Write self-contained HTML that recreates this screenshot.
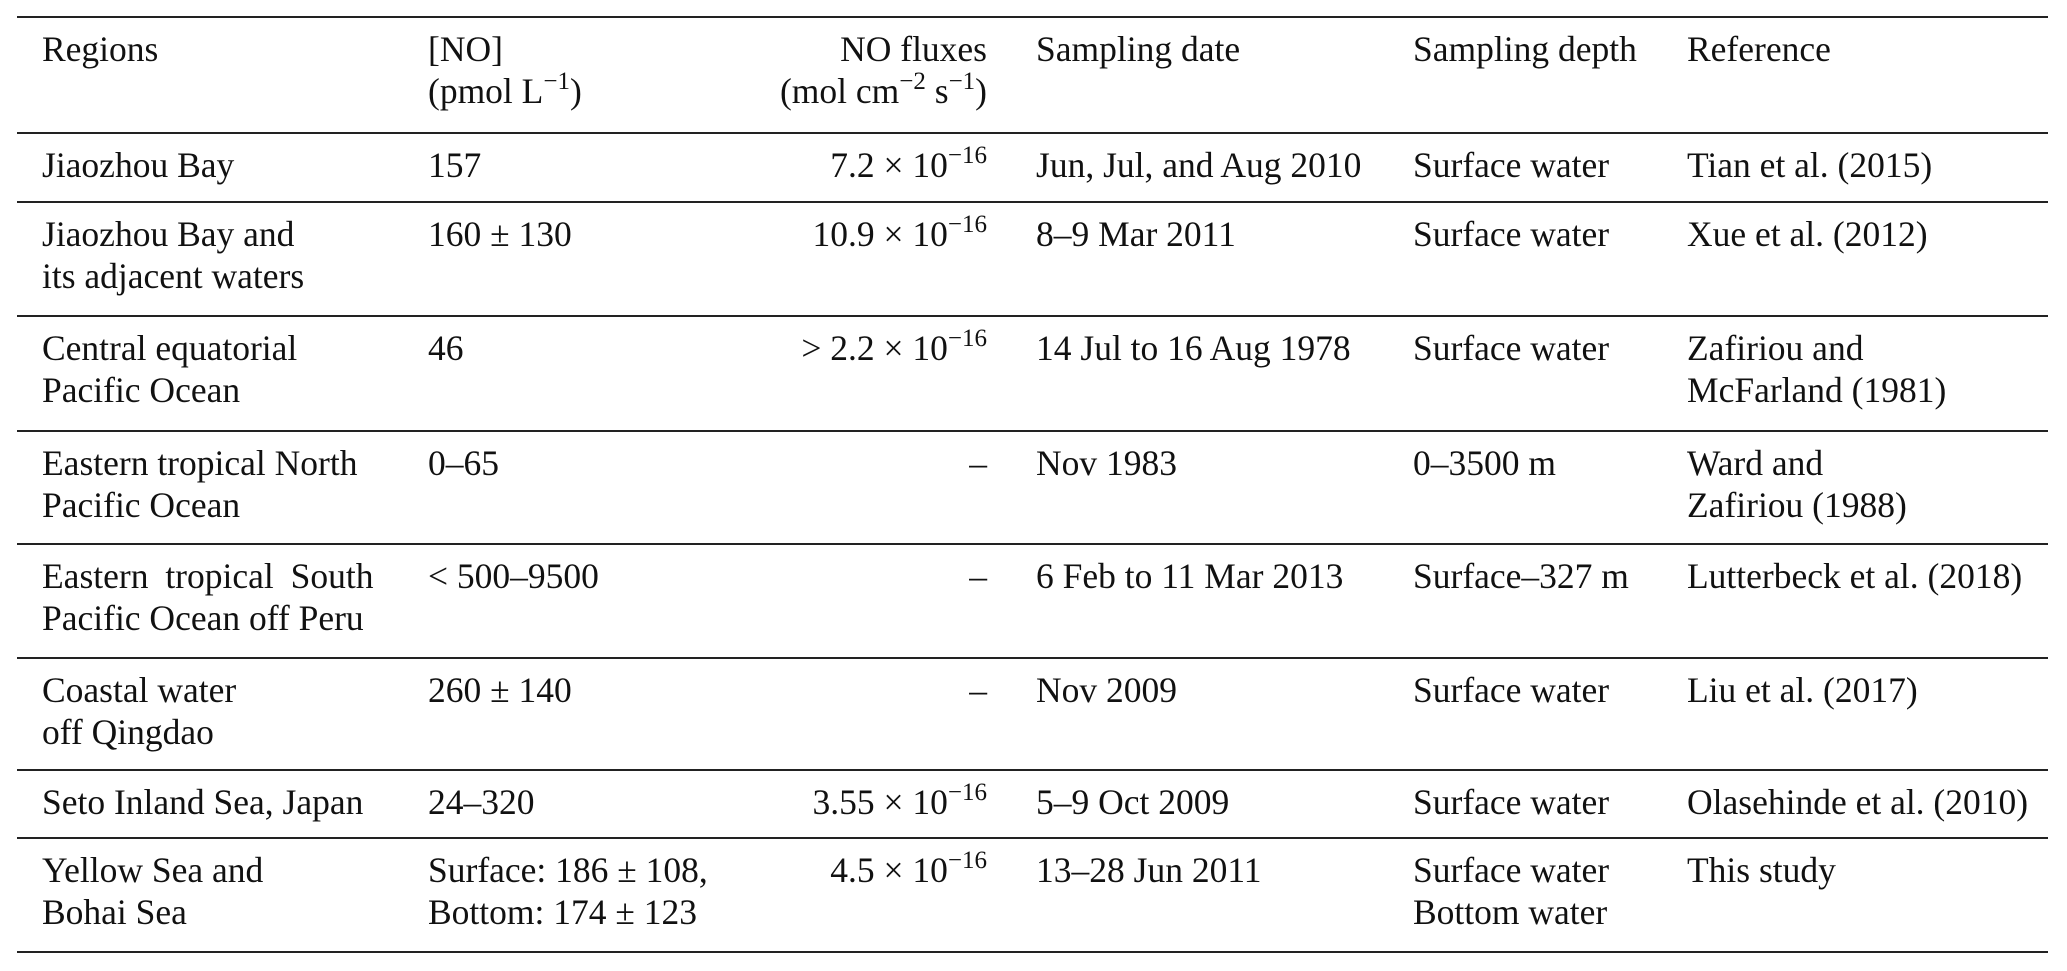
<!DOCTYPE html>
<html><head><meta charset="utf-8"><style>
body{margin:0;background:#fff;width:2067px;height:971px;position:relative;overflow:hidden;font-family:"Liberation Serif","DejaVu Serif",serif;font-size:35.5px;line-height:42px;color:#111}
.l{position:absolute;left:17px;width:2031px;height:2px;background:#222}
.c{position:absolute;white-space:nowrap}
.r{text-align:right}
sup{font-size:25px;line-height:0;vertical-align:0;position:relative;top:-14px}
</style></head><body>
<div class="l" style="top:16px"></div>
<div class="l" style="top:132px"></div>
<div class="l" style="top:201px"></div>
<div class="l" style="top:315px"></div>
<div class="l" style="top:430px"></div>
<div class="l" style="top:543px"></div>
<div class="l" style="top:657px"></div>
<div class="l" style="top:769px"></div>
<div class="l" style="top:837px"></div>
<div class="l" style="top:951px"></div>

<div class="c" style="left:42px;top:28px">Regions</div>
<div class="c" style="left:428px;top:28px">[NO]<br>(pmol L<sup>−1</sup>)</div>
<div class="c r" style="right:1080px;top:28px">NO fluxes<br>(mol cm<sup>−2</sup> s<sup>−1</sup>)</div>
<div class="c" style="left:1036px;top:28px">Sampling date</div>
<div class="c" style="left:1413px;top:28px">Sampling depth</div>
<div class="c" style="left:1687px;top:28px">Reference</div>

<div class="c" style="left:42px;top:144px">Jiaozhou Bay</div>
<div class="c" style="left:428px;top:144px">157</div>
<div class="c r" style="right:1080px;top:144px">7.2 × 10<sup>−16</sup></div>
<div class="c" style="left:1036px;top:144px">Jun, Jul, and Aug 2010</div>
<div class="c" style="left:1413px;top:144px">Surface water</div>
<div class="c" style="left:1687px;top:144px">Tian et al. (2015)</div>

<div class="c" style="left:42px;top:213px">Jiaozhou Bay and<br>its adjacent waters</div>
<div class="c" style="left:428px;top:213px">160 ± 130</div>
<div class="c r" style="right:1080px;top:213px">10.9 × 10<sup>−16</sup></div>
<div class="c" style="left:1036px;top:213px">8–9 Mar 2011</div>
<div class="c" style="left:1413px;top:213px">Surface water</div>
<div class="c" style="left:1687px;top:213px">Xue et al. (2012)</div>

<div class="c" style="left:42px;top:327px">Central equatorial<br>Pacific Ocean</div>
<div class="c" style="left:428px;top:327px">46</div>
<div class="c r" style="right:1080px;top:327px">&gt; 2.2 × 10<sup>−16</sup></div>
<div class="c" style="left:1036px;top:327px">14 Jul to 16 Aug 1978</div>
<div class="c" style="left:1413px;top:327px">Surface water</div>
<div class="c" style="left:1687px;top:327px">Zafiriou and<br>McFarland (1981)</div>

<div class="c" style="left:42px;top:442px">Eastern tropical North<br>Pacific Ocean</div>
<div class="c" style="left:428px;top:442px">0–65</div>
<div class="c r" style="right:1080px;top:442px">–</div>
<div class="c" style="left:1036px;top:442px">Nov 1983</div>
<div class="c" style="left:1413px;top:442px">0–3500 m</div>
<div class="c" style="left:1687px;top:442px">Ward and<br>Zafiriou (1988)</div>

<div class="c" style="left:42px;top:555px"><span style="word-spacing:8px">Eastern tropical South</span><br>Pacific Ocean off Peru</div>
<div class="c" style="left:428px;top:555px">&lt; 500–9500</div>
<div class="c r" style="right:1080px;top:555px">–</div>
<div class="c" style="left:1036px;top:555px">6 Feb to 11 Mar 2013</div>
<div class="c" style="left:1413px;top:555px">Surface–327 m</div>
<div class="c" style="left:1687px;top:555px">Lutterbeck et al. (2018)</div>

<div class="c" style="left:42px;top:669px">Coastal water<br>off Qingdao</div>
<div class="c" style="left:428px;top:669px">260 ± 140</div>
<div class="c r" style="right:1080px;top:669px">–</div>
<div class="c" style="left:1036px;top:669px">Nov 2009</div>
<div class="c" style="left:1413px;top:669px">Surface water</div>
<div class="c" style="left:1687px;top:669px">Liu et al. (2017)</div>

<div class="c" style="left:42px;top:781px">Seto Inland Sea, Japan</div>
<div class="c" style="left:428px;top:781px">24–320</div>
<div class="c r" style="right:1080px;top:781px">3.55 × 10<sup>−16</sup></div>
<div class="c" style="left:1036px;top:781px">5–9 Oct 2009</div>
<div class="c" style="left:1413px;top:781px">Surface water</div>
<div class="c" style="left:1687px;top:781px">Olasehinde et al. (2010)</div>

<div class="c" style="left:42px;top:849px">Yellow Sea and<br>Bohai Sea</div>
<div class="c" style="left:428px;top:849px">Surface: 186 ± 108,<br>Bottom: 174 ± 123</div>
<div class="c r" style="right:1080px;top:849px">4.5 × 10<sup>−16</sup></div>
<div class="c" style="left:1036px;top:849px">13–28 Jun 2011</div>
<div class="c" style="left:1413px;top:849px">Surface water<br>Bottom water</div>
<div class="c" style="left:1687px;top:849px">This study</div>
</body></html>
